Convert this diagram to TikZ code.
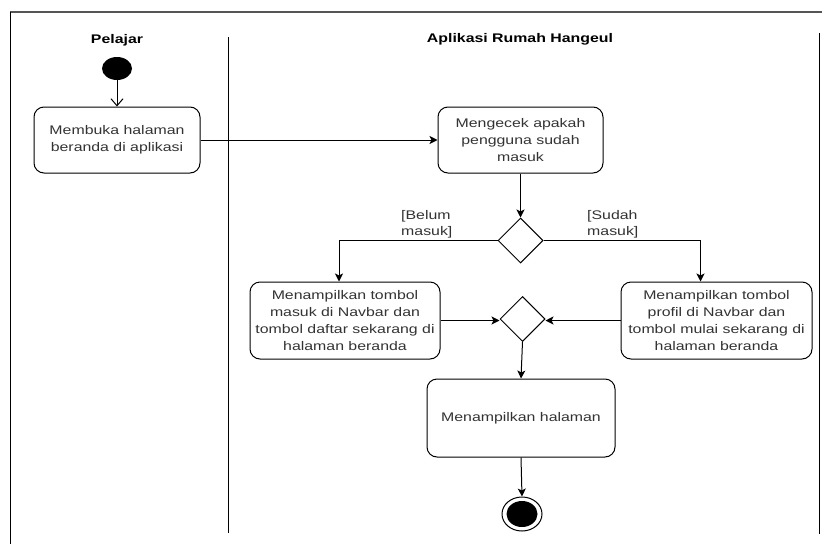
\documentclass[tikz,border=0pt]{standalone}
\usepackage{fontspec}
\setmainfont[FakeStretch=1.27]{Liberation Sans}
\usetikzlibrary{shapes.geometric,arrows.meta}
\definecolor{txt}{HTML}{333333}
\definecolor{frame}{HTML}{555555}
\tikzset{
  action/.style={draw, line width=1pt, rounded corners=10pt, inner sep=0pt,
    align=center, text=txt, font=\fontsize{12.5}{17}\selectfont},
  decision/.style={draw, line width=1pt, diamond, aspect=1, inner sep=0pt,
    minimum width=45pt, minimum height=45pt},
  guard/.style={align=left, text=txt, font=\fontsize{12.5}{16}\selectfont, inner sep=0pt},
  lane/.style={font=\bfseries\fontsize{12.5}{15}\selectfont, inner sep=0pt},
  flow/.style={line width=1pt, -{Stealth[length=8pt,width=8pt,inset=2pt]}},
  openflow/.style={line width=1pt, -{Straight Barb[length=7pt,width=12pt]}},
}
\begin{document}
\begin{tikzpicture}[x=1pt,y=-1pt]
\useasboundingbox (0,0) rectangle (822,544);
\fill[white] (0,0) rectangle (822,544);

% pool frame and lane divider
\draw[frame, line width=1.2pt] (10,12) -- (822,12);
\draw[line width=1pt] (10.5,12) -- (10.5,544);
\draw[line width=1pt] (819,33) -- (819,534);
\draw[line width=1pt] (228,37) -- (228,533);

% lane headers
\node[lane] (lanePelajar) at (117,40) {Pelajar};
\node[lane] (laneApp) at (520,39) {Aplikasi Rumah Hangeul};

% start / end
\node[ellipse, fill=black, minimum width=30pt, minimum height=23pt, inner sep=0pt] (start) at (117,68.5) {};
\node[ellipse, draw, line width=1pt, minimum width=40pt, minimum height=34pt, inner sep=0pt] (finish) at (522,514) {};
\node[ellipse, fill=black, minimum width=31pt, minimum height=26pt, inner sep=0pt] (finishdot) at (522,514) {};

% actions
\node[action, minimum width=166pt, minimum height=66pt] (buka) at (117,140)
  {Membuka halaman\\beranda di aplikasi};
\node[action, minimum width=165pt, minimum height=66pt] (cek) at (520.5,140)
  {Mengecek apakah\\pengguna sudah\\masuk};
\node[action, minimum width=190pt, minimum height=77pt] (belum) at (345,320.5)
  {Menampilkan tombol\\masuk di Navbar dan\\tombol daftar sekarang di\\halaman beranda};
\node[action, minimum width=191pt, minimum height=77pt] (sudah) at (716.5,320.5)
  {Menampilkan tombol\\profil di Navbar dan\\tombol mulai sekarang di\\halaman beranda};
\node[action, minimum width=188pt, minimum height=78pt] (tampil) at (521,418)
  {Menampilkan halaman};

% decision / merge
\node[decision] (cabang) at (520.5,240.5) {};
\node[decision] (gabung) at (522.5,319) {};

% guards
\node[guard, anchor=west] (gBelum) at (401,224) {[Belum\\masuk]};
\node[guard, anchor=west] (gSudah) at (587,224) {[Sudah\\masuk]};

% flows
\draw[openflow] (start) -- (buka);
\draw[flow] (buka.east) -- (cek.west);
\draw[flow] (cek.south) -- (cabang.north);
\draw[flow] (cabang.west) -| ([xshift=-6pt]belum.north);
\draw[flow] (cabang.east) -| ([xshift=-16pt]sudah.north);
\draw[flow] (belum.east) -- (belum.east -| gabung.west);
\draw[flow] (sudah.west) -- (sudah.west -| gabung.east);
\draw[flow] (gabung.south) -- (tampil.north);
\draw[flow] (tampil.south) -- (finish.north);
\end{tikzpicture}
\end{document}
